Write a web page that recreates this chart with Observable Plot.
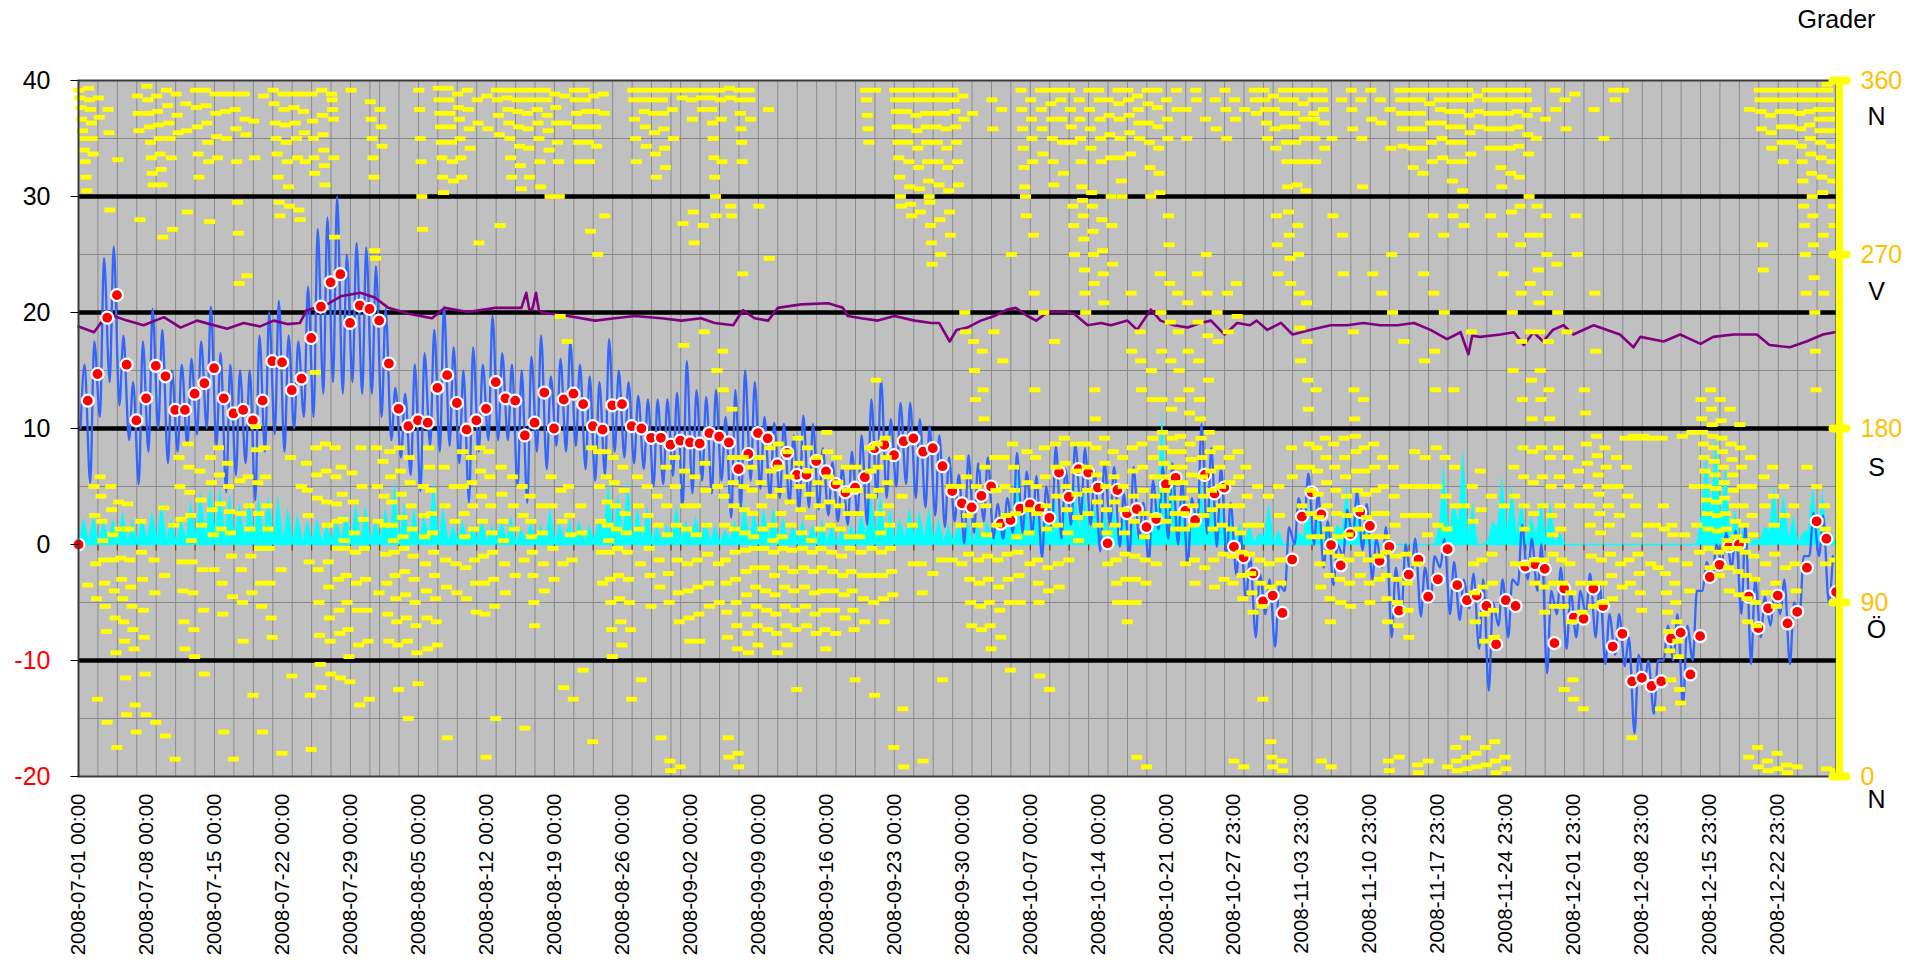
<!DOCTYPE html>
<html><head><meta charset="utf-8">
<script src="https://cdn.jsdelivr.net/npm/d3@7"></script>
<script src="https://cdn.jsdelivr.net/npm/@observablehq/plot@0.6"></script>
<style>body{margin:0;background:#fff;}svg{display:block;}</style>
</head><body><div id="chart"></div>
<script>
// ---------------- DATA ----------------
const startDate = new Date(Date.UTC(2008, 6, 1));
const endDate = new Date(Date.UTC(2008, 11, 29));

const xTickLabels = ["2008-07-01 00:00","2008-07-08 00:00","2008-07-15 00:00","2008-07-22 00:00","2008-07-29 00:00","2008-08-05 00:00","2008-08-12 00:00","2008-08-19 00:00","2008-08-26 00:00","2008-09-02 00:00","2008-09-09 00:00","2008-09-16 00:00","2008-09-23 00:00","2008-09-30 00:00","2008-10-07 00:00","2008-10-14 00:00","2008-10-21 00:00","2008-10-27 23:00","2008-11-03 23:00","2008-11-10 23:00","2008-11-17 23:00","2008-11-24 23:00","2008-12-01 23:00","2008-12-08 23:00","2008-12-15 23:00","2008-12-22 23:00"];
const leftTicks = [40, 30, 20, 10, 0, -10, -20];
const rightTicks = [360, 270, 180, 90, 0];
const compassLabels = ["N", "V", "S", "Ö", "N"];
const rightTitle = "Grader";

// daily mean temperature (one per day, 07-01 .. 12-28)
const dailyMeanTemp = [12.4,14.7,19.55,21.5,15.5,10.7,12.6,15.4,14.5,11.6,11.6,13.0,13.9,15.2,12.6,11.3,11.6,10.7,12.4,15.8,15.7,13.3,14.3,17.8,20.5,22.6,23.3,19.1,20.6,20.3,
19.3,15.6,11.7,10.2,10.7,10.5,13.5,14.6,12.2,9.9,10.7,11.7,14.0,12.6,12.4,9.4,10.5,13.1,10.0,12.5,13.0,12.1,10.2,9.9,12.0,12.1,10.2,10.0,9.2,9.2,
8.6,8.95,8.8,8.7,9.6,9.3,8.8,6.5,7.8,9.6,9.15,6.9,7.9,6.0,6.0,7.2,6.3,5.2,4.5,4.9,5.8,8.3,8.6,7.7,8.9,9.15,8.0,8.3,6.75,4.6,
3.55,3.2,4.2,5.0,1.8,2.1,3.1,3.45,3.1,2.3,6.2,4.1,6.5,6.2,4.9,0.1,4.7,2.7,3.05,1.5,2.2,5.2,5.75,2.9,2.1,6.0,4.4,4.9,-0.2,-1.1,
-2.5,-4.9,-4.4,-5.9,-1.3,2.4,4.5,2.6,-0.05,-1.8,0.9,2.8,1.6,-1.4,-0.2,-5.7,-2.6,-1.3,-4.5,-3.0,-0.4,-3.5,-4.8,-4.4,-5.3,-8.6,-4.8,-5.3,-1.9,-1.7,
-2.1,-8.5,-3.8,-6.3,-6.4,-3.8,-5.3,-8.8,-7.7,-11.8,-11.5,-12.2,-11.8,-8.1,-7.6,-11.2,-7.9,-2.8,-1.75,-0.15,0,-4.5,-7.2,-5.5,-4.4,-6.8,-5.8,-2.0,2.0,0.5,-4.1];

// hourly temperature: daily low (early morning) and high (afternoon)
const hourlyTempMin = [10,5.3,11,14,12,9,5.2,8,10,7,8,8.5,9.5,10,8.5,4.5,6,7,3.8,8,9.5,8,10,11,11,13,14,13,14,13,
13,11,9,7.5,6,4.6,8.5,8,8.5,7,3.6,8,9,9,9,5,3.6,8,6.5,8.5,8,8.5,6.5,5.5,6,8,7.5,7,6.5,5,
5.2,5.9,3.3,4.4,5.5,4.4,5.5,2.3,3.2,5.5,4.8,4.0,4.0,3.5,3.0,3.2,3.0,2.5,2.0,1.7,2.5,1.7,4.0,4.0,5.0,5.2,4.0,3.2,2.5,1.5,
2,0.1,1.0,2.0,0.5,0.5,1.0,1.0,1.0,-1.2,1.3,0.5,1.7,2.5,1.7,-0.6,1.7,-0.2,-1.0,0.5,-1.5,1.3,0.5,0,-1.8,1.7,0.9,-0.2,-1,-2.6,
-4.7,-8,-6,-8.8,-4,0,2,0,-2,-3.5,-1,0.5,-0.5,-3,-2,-8,-6,-3,-6.2,-5,-2,-6,-6.5,-5.5,-9,-12.6,-7,-8,-3.5,-3,
-4,-11.1,-6,-9,-8,-6,-8,-10.3,-9.5,-10.5,-16.3,-12,-14.6,-10,-10,-13.8,-10,-4,-3,-1.5,-2,-6,-10.3,-8,-7,-6,-10.3,-6,-1,-1,-5];
const hourlyTempMax = [15.5,17.5,24.7,25.7,18,14,17.5,20.3,18.5,15,15.5,16,17.5,20.5,16.5,15.5,15,15,18,20,21,18,17.5,22.2,27.2,28.2,30,25,26,25.6,
24,20.3,13.5,13,15.5,16.5,18.5,20.5,17,15,17,15.5,19.7,16.5,15.5,15,16.2,18,14.5,16,17.5,15.5,14.5,14,17.7,15,14,12.8,12.5,12.5,
12.5,13.1,15.8,13.3,12.7,13.3,11,13.3,15,14,11,10.5,10.4,9.4,11.1,10.4,8.3,7.1,6.7,8,9.4,12.5,14.3,10.8,12.2,12.2,10.8,10.2,9.4,7.5,
6,7.7,7.0,7.5,3.5,4.0,7.9,6.3,5.9,5.0,8.5,6.5,8.8,8.3,6.3,7.1,6.7,4.4,6.7,3.6,5.5,6.7,7.0,5.5,4.0,10.4,8.3,6.7,3.6,1.0,
-1,-2.5,-3,-3.5,1.5,4,6.1,4.5,2,0,3,4.5,3.5,0.5,1.5,-2,0,0.5,-2,-1,0.5,-1.5,-3,-2.5,-3,-5,-3,-3,1.7,0.5,
0,-4,-2,-4,-4,-2.5,-3.5,-6,-6,-8,-9.5,-10,-10,-7,-6,-7,-4,-1.5,0,1,1.2,1.7,-3,-4.5,-4,-3,-5,-1,2.7,2.5,-1];

// purple series (day offset, value)
const purpleDays = [0,1.6,3,5,6.7,8.8,10.5,12.2,15.3,17,18.7,20.1,21.5,22.8,23.5,25.6,27,29,30.5,31.9,34,36.4,37.7,40.1,42.9,45.6,46.1,46.4,46.7,47.1,47.4,47.7,50.4,53.2,55.2,57.3,60,62.1,64.1,65.5,67.4,68.4,69.6,71,72,74.4,77.2,78.7,79.2,80.6,82.3,84,86.1,87.8,88.6,89.7,90.4,91.5,92.9,94.3,95.6,96.5,97.7,98.6,99.8,101.5,102.5,103.9,105.3,106.3,108,109,110.4,111.4,112.8,114.2,115.5,116.6,118,119.3,120.6,121.3,122.4,123.8,125,126.8,128.9,130.6,132.3,134,135.8,137.5,139.2,140.9,142.3,143.1,143.5,144.3,146.4,147.8,148.8,149.8,150.8,151.8,152.9,153.9,156,158.7,160.1,160.8,163.2,164.9,167,168.3,170.4,172.8,174.1,176.2,177.9,179.6,180.8];
const purpleValues = [18.8,18.3,19.9,19.3,18.9,19.6,18.7,19.3,18.6,19.1,18.8,19.3,19.0,19.1,20.2,20.7,21.4,21.7,21.3,20.4,19.9,19.5,20.4,20.05,20.4,20.4,21.7,20.3,20.2,21.7,20.2,20.0,19.7,19.3,19.5,19.7,19.5,19.3,19.5,19.1,18.9,20.2,19.5,19.3,20.4,20.7,20.8,20.4,19.7,19.5,19.3,19.7,19.3,19.1,19.1,17.5,18.5,18.7,19.3,19.7,20.25,20.4,19.7,19.3,20.05,20.05,19.9,18.9,19.1,18.9,19.3,18.5,20.25,19.3,18.9,18.7,19.1,19.3,18.1,19.1,18.9,19.3,18.5,19.1,18.1,18.5,18.9,18.9,19.1,18.9,18.9,19.1,18.5,17.7,18.3,16.4,18.0,17.9,18.1,18.3,17.2,18.3,17.5,18.5,18.9,18.1,18.9,18.1,17.0,17.9,17.5,18.1,17.3,17.9,18.1,18.1,17.2,17.0,17.5,18.1,18.3];

// wind speed (cyan): daily lull and gust level
const windSpeedLow = [0.5,0.4,0.3,0.5,0.4,0.3,0.4,0.5,0.6,0.4,0.3,0.6,0.8,1.0,1.2,0.9,0.7,0.8,0.9,0.8,0.7,0.5,0.4,0.3,0.4,0.3,0.4,0.5,0.6,0.5,
0.4,0.6,1.0,0.7,0.5,0.4,1.0,0.6,0.3,0.4,0.3,0.4,0.3,0.4,0.5,0.2,0.4,0.3,0.6,0.3,0.4,0.4,0.3,0.4,1.2,0.9,1.1,0.6,0.6,0.3,
0.3,0.6,0.4,0.5,0.4,0.3,0.2,0.4,0.7,0.5,0.6,0.6,0.4,0.3,0.4,0.3,0.4,0.3,0.2,0.3,0.5,0.9,0.9,0.6,0.4,0.6,0.6,0.6,0.4,0.3,
0.3,0.4,0.3,0.4,0.4,0.6,2.0,0.8,0.7,0.8,1.0,0.8,1.5,1.2,1.0,0.8,0.7,0.7,0.5,0.4,0.6,3.5,2.5,1.5,0.8,1.5,1.0,0.8,0.6,0.3,
0.3,0.2,0.7,0.2,0,0.2,0.7,0.6,0.4,0.3,1.2,1.0,0.7,0,0,0,0,0,0,0,1.5,0.7,2.0,0.7,0,0.3,1.5,1.2,0.8,0.5,
0.8,0.6,0.2,0,0,0,0,0,0,0,0,0,0,0,0,0,0,2.5,3.0,2.0,0.6,0.4,0,0.3,1.2,1.0,0.5,0.2,1.2,1.0,0.2];
const windSpeedHigh = [2.3,2.5,2.1,2.3,2.9,2.1,2.3,2.9,3.6,2.3,2.1,3.8,4.6,5.0,5.0,4.4,3.6,3.8,4.2,4.2,4.2,3.2,2.7,2.1,2.3,1.7,2.1,2.7,3.6,3.4,
2.1,3.2,5.5,3.6,3.2,2.5,5.5,3.2,1.7,2.1,1.7,2.1,1.7,2.1,2.5,1.3,2.1,1.7,3.2,1.9,2.1,2.1,1.7,2.1,5.5,4.4,5.5,3.2,3.4,1.7,
1.7,3.4,2.1,2.5,2.1,1.7,1.3,2.1,3.6,2.9,3.2,3.2,2.3,1.7,2.1,1.7,2.1,1.7,1.3,1.7,2.7,4.6,4.4,3.2,2.3,3.2,3.0,3.2,2.3,1.7,
1.7,2.1,1.7,2.1,2.1,2.9,7.9,3.6,3.2,3.6,4.0,3.6,5.5,4.8,4.0,3.6,3.2,3.2,2.5,2.1,2.7,11.6,7.5,5.5,3.6,5.5,4.4,3.6,2.9,1.7,
1.7,1.0,3.6,1.3,0,1.0,3.6,3.2,2.1,1.7,5.1,4.4,3.6,0.5,0,0,0,0,0,0,7.1,3.6,8.3,3.6,0,2.0,6.0,5.1,3.8,2.5,
3.8,3.6,1.0,0,0,0,0,0,0,0,0,0,0,0,0,0,0,8.0,9.5,7.0,3.0,2.0,0.5,1.5,5.1,4.4,2.5,1.0,5.1,4.6,1.0];

// wind direction in degrees, observations of each day
const windDirByDay = [
"355 351 346 340 334 330 324 318 310 303 99","356 350 345 338 330 322 150 135 110 92 40","351 341 155 145 132 122 112 100 88 75 28","345 333 293 150 138 125 112 96 82 64 15","319 142 128 113 102 92 80 70 51 32","141 128 112 98 88 76 66 37 23","352 343 334 288 132 116 102 86 72 53 32","357 350 343 336 328 320 312 306 112 95 28","352 344 337 330 322 314 306 279 139 104 21","355 347 338 330 320 283 130 9",
"353 342 333 165 150 133 111 96 80 66","348 334 292 172 160 147 135 122 111 95 76 62","355 346 336 322 310 158 143 130 107 86 53","355 347 338 328 318 287 165 152 138 125 107","353 343 331 320 170 156 141 128 100 84 23","353 344 330 162 150 137 126 114 93 9","353 345 335 318 297 281 255 153 136 107 90 70","353 340 332 259 155 140 128 114 95 42","339 320 181 169 152 136 118 100 88 23","352 170 155 140 128 118 100 82 72",
"355 348 338 330 322 310 297 290 107 12","353 345 337 328 318 305 295 165 52","353 346 338 330 320 293 288 150","353 344 333 318 162 148 135 111 42 14","353 339 330 320 312 209 170 156 144 107 90 73 58 46","355 342 332 324 316 306 172 158 142 130 111 98 82 70 53","353 350 345 340 320 279 170 155 141 132 118 102 86 74 51","160 146 133 122 118 104 90 76 62 49","355 157 142 126 116 100 86 68 37","170 150 133 118 102 86 70 40",
"349 340 330 320 310 272 268 170 150 132 95","345 336 326 163 145 130 115 100 84 70","168 155 142 130 122 116 104 92 80 68 45","170 158 146 134 124 118 106 94 82 70 30","165 152 140 128 114 102 90 78 64 48","355 345 330 318 300 283 150 135 124 110 96 82 66","170 160 148 136 126 116 104 92 80 68","356 350 343 336 328 320 310 302 160 140 112 98 20","356 350 343 336 328 318 308 150 132 110 95","353 346 340 330 320 310 168 150 136 124 108 92",
"355 345 335 325 165 152 140 128 112 100 85","350 338 276 170 158 145 132 114 100 84 10","352 335 168 155 140 126 116 102 88 30","355 350 342 332 285 160 146 132 122 110 95","355 351 345 338 330 320 310 155 140 128 104","355 350 344 336 326 316 304 150 135 112 25","355 350 343 335 325 310 145 132 124 116 104 90 78","355 350 345 338 330 318 305 140 126 110 96","355 350 342 334 324 300 155 140 118 102","353 346 338 328 318 300 238 148 132 110 46",
"352 338 225 150 135 125 112 40","355 350 343 336 328 318 140 126 55","355 350 344 336 328 318 282 170 18","352 344 336 326 270 168 150 132 116 100","353 343 290 168 155 142 130 122 116 102 90 76 62","165 152 140 128 118 104 92 80 68","160 148 136 126 116 102 90 76 40","355 350 340 330 318 155 140 128 110 50","355 350 344 336 326 150 135 118 104 88","355 350 343 333 322 310 145 130 112 98 20",
"355 350 343 335 325 315 160 140 125 105 90 8 3","355 345 330 165 150 130 112 95 80 5","355 351 286 223 158 140 128 110 96 82 70","355 350 340 292 276 155 140 125 112 98 84 70","355 351 345 285 230 162 148 130 115 100 88","355 351 345 338 330 320 310 300 290 210 150 110 90","355 350 340 318 220 200 145 130 112 100 85 72 20 10","356 351 295 290 190 165 152 140 128 116 102 90 78 66 12 5","355 350 343 335 328 318 260 165 150 138 126 117 106 94 84 74 64","355 350 340 160 148 136 124 118 108 98 88 78 68",
"295 165 152 140 128 118 108 96 86 76","345 268 170 158 145 130 122 116 104 94 84 74 64","172 160 148 136 124 118 108 98 88 78 68","168 155 142 130 117 106 96 86 76 45","175 162 150 138 126 118 108 98 88 78","170 158 146 134 122 116 106 95 84 74","165 152 140 128 118 108 96 86 76 66","178 168 155 142 130 116 106 96 86 74","165 152 140 128 114 104 94 82","160 148 136 124 118 106 96 86 76 50",
"160 148 136 124 116 104 92 80","355 350 342 335 328 170 158 145 118 104 90 42","355 205 172 160 148 136 126 116 104 92 80","175 165 152 140 130 118 106 94 15","355 350 344 336 328 320 310 300 295 145 35 5","355 350 344 336 328 318 305 296 290 130 110","355 350 342 334 325 315 304 292 110 95 8","355 350 343 336 328 318 308 300 297 285 276 265 105","355 350 343 336 328 318 306 288 270 112 50","355 350 343 335 325 315 303 292 280 150 112",
"355 350 344 336 328 318 306 165 150 130 110","352 340 240 230 155 135 115 102 90 78","343 225 210 195 150 130 112 100 88 76","220 200 185 160 140 125 114 102 90 78 66","350 335 230 165 148 130 112 98 86 72","345 215 165 150 135 115 102 90 55","270 172 160 148 136 124 116 104 90","355 345 335 325 315 305 300 290 168 152 138 126 110","350 340 330 318 280 250 200 165 150 136 112 100 90 52","355 345 335 322 240 170 155 140 128 108 96 45",
"355 348 340 330 318 306 225 172 160 145 130 110 98","355 350 340 328 312 175 162 150 138 126 112","355 345 336 328 295 285 270 172 158 146 134 122","350 340 330 318 305 298 290 278 262 250 240 172 160 148 136","355 345 335 325 302 295 282 270 255 200 185 170 156 142 130","355 350 340 330 318 288 272 260 245 175 162 150 138 126 110","350 342 332 320 300 285 265 168 155 142 130 112 100 90","355 348 340 330 320 308 300 165 150 138 126 115 102 90 80","355 350 342 333 322 250 220 170 158 145 132 114 102 90 10","352 345 338 330 230 215 200 172 160 148 136 124 112 100 5",
"355 348 338 328 315 300 210 195 175 165 155 145 135 110","355 346 336 325 312 302 260 240 220 195 178 170 162 155 148 140 132","350 340 330 290 275 255 235 215 190 175 168 160 152 144 136 128","355 345 250 230 210 195 176 168 160 152 144 136 128 110","345 330 245 220 200 188 172 164 156 148 140 130 112 100","355 350 260 235 215 195 185 175 165 155 145 135 108","340 270 250 228 205 178 168 158 148 138 128 112 98","350 335 240 225 170 160 150 140 130 115 102","355 345 330 250 230 165 152 140 128 114 100 8","350 340 255 238 168 155 140 126 116 104 92 5",
"345 160 145 130 115 105 95 85","355 350 343 150 130 112 100 88 40","355 350 345 338 330 145 110 98 18 10 5","352 345 335 325 290 275 260 150 135 112 100 8 3","355 350 343 336 328 318 305 292 280 268 255 170 155","355 350 343 336 328 318 306 285 270 250 232 215 160 140","355 348 340 330 318 303 245 225 205 190 172 160 148 136 124","355 350 343 340 330 318 200 170 158 146 134 124 110 98 8","355 350 345 338 325 175 165 152 140 128 116 104 92 80 5","330 290 172 160 148 136 124 114 102 90",
"350 280 260 175 165 155 145 135 125 112 100 88","355 345 335 230 200 185 176 168 158 148 138 128 115 104","350 330 305 195 170 158 146 134 124 112 100 90","355 340 260 172 160 148 136 124 114 102","350 338 250 165 150 136 124 116 104 92 80 8 3","345 325 270 240 160 145 130 114 102 90 78 10","355 350 343 335 326 225 150 135 115 100 86 72","355 350 343 335 325 315 280 168 150 135 110 6 2","355 350 343 335 325 312 260 215 165 150 135 125 8","355 348 338 328 318 290 250 220 200 170 150 130",
"355 350 345 338 330 320 280 240 165 145 128 5","355 350 344 336 328 318 308 290 200 160 140 15 8 3","355 350 344 336 328 318 303 295 285 140 20 10 4","355 350 342 333 322 230 150 132 110 95 80 12 5","352 344 336 158 138 112 98 84 70 15 6","355 350 343 335 325 290 145 115 100 86 72 18 8 2","355 350 343 335 325 315 305 280 260 140 10 4","355 350 343 335 325 312 292 240 210 160 145 110","355 350 344 336 326 310 295 275 250 225 195 170 155 140 128 110","355 350 342 332 322 300 280 255 230 205 185 168 152 136 112 100",
"345 330 295 280 262 245 230 210 195 170 155 140 112 98 85","340 290 270 250 225 200 185 165 150 135 125 115 100 88","355 345 265 240 170 155 140 128 112 100 88 45","350 335 230 165 150 110 95 80 50 40","353 290 270 158 140 100 85 35","200 188 172 162 150 140 130 114 100 88","345 250 220 176 166 156 146 136 126 112 100 90","330 170 160 150 140 130 115 104 92","355 350 165 150 135 110 98","355 175 160 145 112 100 20",
"176 175 140 125 115 105 95 86","176 175 130 110","175 130 108 35","175 140 128 105 95 85 75 65 50","130 125 112 100 90 80 70 62 45 38","176 125 110 96","178 150 130 116","195 185 178 172 165 158 150 143 136 128 118 108","200 190 182 176 170 163 156 149 142 135 127 116 104","195 184 175 168 160 152 144 136 128 122 118 108 96",
"190 172 164 156 148 140 132 124 118 106 94","182 170 160 150 140 130 122 116 104 92 80 10","345 165 150 135 125 114 102 90 78 15 5","355 350 344 335 275 262 155 140 110 95 8 3","355 350 342 333 325 160 145 130 115 100 88 12 4","355 350 344 336 328 318 150 135 108 6 2","355 350 344 336 328 140 110 96 5","355 350 343 335 326 318 308 295 285 270 250 160","355 350 344 337 330 322 312 300 290 275 258 240 220 200 150","355 350 345 340 334 328 320 310 302 280 250 140 128 110 4",
"358 355 350 345 340 334 326 318 308 295 285 112 3 1"];

// ---------------- BUILD ----------------
const HOUR = 36e5, DAY = 864e5;
const at = (day, hour) => new Date(startDate.getTime() + day * DAY + hour * HOUR);
const degToLeft = deg => deg / 6 - 20; // right axis 0..360 maps onto left -20..40

const tempLine = [];
hourlyTempMin.forEach((lo, d) => {
  tempLine.push({t: at(d, 5), v: lo});
  tempLine.push({t: at(d, 15), v: hourlyTempMax[d]});
});
const meanDots = [{t: startDate, v: 0}].concat(dailyMeanTemp.map((v, d) => ({t: at(d, 23), v})));
const purpleLine = purpleDays.map((d, i) => ({t: at(d, 0), v: purpleValues[i]}));
const windLine = [];
windSpeedLow.forEach((lo, d) => {
  windLine.push({t: at(d, 3), v: lo});
  windLine.push({t: at(d, 14), v: windSpeedHigh[d]});
});
windLine.push({t: endDate, v: windSpeedLow[windSpeedLow.length - 1]});
const dirPoints = [];
windDirByDay.forEach((s, d) => {
  const vals = s.split(" ").map(Number);
  vals.forEach((deg, k) => dirPoints.push({t: at(d, (k + 0.5) * 24 / vals.length), v: degToLeft(deg)}));
});
const xTicks = xTickLabels.map(s => ({t: new Date(s.replace(" ", "T") + ":00Z"), label: s}));
const gridDays = d3.utcDay.every(2).range(startDate, endDate);

const dash = {draw(ctx) { ctx.rect(-5.5, -2.4, 11, 4.8); }};
const leftTick = {draw(ctx) { ctx.moveTo(-8, 0); ctx.lineTo(0, 0); }};
const zeroTick = {draw(ctx) { ctx.moveTo(0, 0); ctx.lineTo(0, 6); }};
const rightTick = {draw(ctx) {
  ctx.moveTo(-7, -4); ctx.lineTo(7, -4); ctx.arc(7, 0, 4, -Math.PI / 2, Math.PI / 2);
  ctx.lineTo(-7, 4); ctx.arc(-7, 0, 4, Math.PI / 2, 3 * Math.PI / 2); ctx.closePath();
}};
const compassDy = [36, 37, 39, 27, 23];
const font = "Liberation Sans, Arial, Helvetica, sans-serif";

const chart = Plot.plot({
  width: 1930, height: 963,
  marginLeft: 78, marginRight: 94, marginTop: 80, marginBottom: 187,
  style: {fontFamily: font, background: "white", overflow: "visible"},
  x: {type: "utc", domain: [startDate, endDate], axis: null},
  y: {domain: [-20, 40], axis: null},
  marks: [
    Plot.frame({fill: "#C0C0C0"}),
    Plot.ruleX(gridDays, {stroke: "#8a8a8a", strokeWidth: 1}),
    Plot.ruleY([35, 25, 15, 5, -5, -15], {stroke: "#8a8a8a", strokeWidth: 1}),
    Plot.ruleY([30, 20, 10, -10], {stroke: "#000", strokeWidth: 4.5}),
    Plot.areaY(windLine, {x: "t", y: "v", fill: "#00FFFF", curve: "linear"}),
    Plot.ruleY([0], {stroke: "#00FFFF", strokeWidth: 1.5}),
    Plot.dot(gridDays, {x: d => d, y: 0, symbol: zeroTick, stroke: "#993300", fill: "none", strokeWidth: 1.2}),
    Plot.line(tempLine, {x: "t", y: "v", stroke: "#3366FF", strokeWidth: 2.3, curve: "monotone-x"}),
    Plot.line(purpleLine, {x: "t", y: "v", stroke: "#800080", strokeWidth: 2.6}),
    Plot.dot(meanDots, {x: "t", y: "v", r: 6, fill: "#FF0000", stroke: "white", strokeWidth: 2.2}),
    Plot.dot(dirPoints, {x: "t", y: "v", symbol: dash, fill: "#FFFF00", stroke: "none"}),
    Plot.frame({stroke: "#3a3a3a", strokeWidth: 2}),
    // left axis ticks and labels
    Plot.dot(leftTicks, {x: startDate, y: d => d, symbol: leftTick, stroke: "#000", fill: "none", strokeWidth: 1}),
    Plot.text(leftTicks.filter(d => d >= 0), {x: startDate, y: d => d, text: d => String(d), dx: -28, textAnchor: "end", fontSize: 25, fill: "#000"}),
    Plot.text(leftTicks.filter(d => d < 0), {x: startDate, y: d => d, text: d => String(d), dx: -28, textAnchor: "end", fontSize: 25, fill: "#FF0000"}),
    // right axis (degrees)
    Plot.ruleX([endDate], {stroke: "#FFFF00", strokeWidth: 7, dx: 3}),
    Plot.dot(rightTicks, {x: endDate, y: degToLeft, symbol: rightTick, fill: "#FFFF00", stroke: "none", dx: 3}),
    Plot.text(rightTicks, {x: endDate, y: degToLeft, text: d => String(d), dx: 24, textAnchor: "start", fontSize: 25, fill: "#FFC000"}),
    ...compassLabels.map((c, i) => Plot.text([c], {x: endDate, y: degToLeft(rightTicks[i]), text: d => d, dx: 40, dy: compassDy[i], textAnchor: "middle", fontSize: 25, fill: "#000"})),
    Plot.text([rightTitle], {x: endDate, y: 40, text: d => d, dy: -61, textAnchor: "middle", fontSize: 25, fill: "#000"}),
    // x axis labels
    Plot.text(xTicks, {x: "t", y: -20, text: "label", rotate: -90, textAnchor: "end", dy: 17, fontSize: 20.5, fill: "#000"})
  ]
});
document.getElementById("chart").appendChild(chart);
</script>
</body></html>
